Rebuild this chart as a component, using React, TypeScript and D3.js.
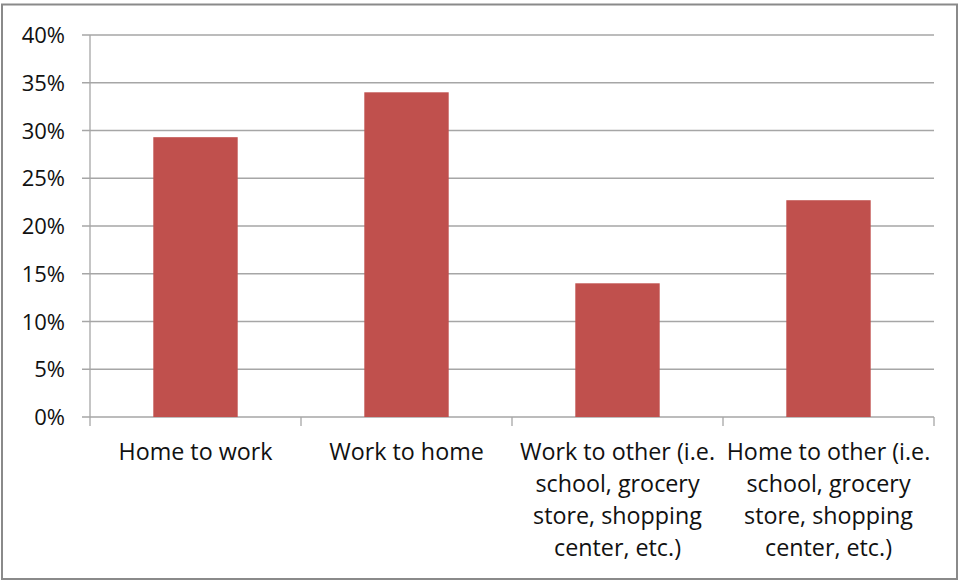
import React from "react";
import * as d3 from "d3";

const categories: string[] = [
  "Home to work",
  "Work to home",
  "Work to other (i.e. school, grocery store, shopping center, etc.)",
  "Home to other (i.e. school, grocery store, shopping center, etc.)",
];
const categoryLines: string[][] = [
  ["Home to work"],
  ["Work to home"],
  ["Work to other (i.e.", "school, grocery", "store, shopping", "center, etc.)"],
  ["Home to other (i.e.", "school, grocery", "store, shopping", "center, etc.)"],
];
const values: number[] = [0.293, 0.34, 0.14, 0.227];
const yTicks: number[] = [0, 0.05, 0.1, 0.15, 0.2, 0.25, 0.3, 0.35, 0.4];

const W = 963;
const H = 581;
const left = 90;
const right = 934;
const top = 35;
const bottom = 417;
const FONT = "'Open Sans', sans-serif";

export default function App() {
  const x = d3.scaleBand<string>().domain(categories).range([left, right]).paddingInner(0.6).paddingOuter(0.3);
  const xb = d3.scaleBand<string>().domain(categories).range([left, right]);
  const y = d3.scaleLinear().domain([0, 0.4]).range([bottom, top]);
  const fmt = d3.format(".0%");
  const boundaries = [left, ...categories.map((c) => (xb(c) as number) + xb.bandwidth())];

  return (
    <svg width={W} height={H} style={{ position: "absolute", left: 0, top: 0 }}>
      <rect x={0} y={0} width={W} height={H} fill="#fff" />
      <rect x={2} y={4.5} width={955} height={574.5} fill="none" stroke="#8a8a8a" strokeWidth={2} />
      {yTicks.map((t) => (
        <g key={t}>
          <line x1={82} x2={right} y1={y(t)} y2={y(t)} stroke="#a6a6a6" strokeWidth={1.3} />
          <text x={65} y={y(t) + 8} textAnchor="end" fontFamily={FONT} fontSize={22} fill="#111">
            {fmt(t)}
          </text>
        </g>
      ))}
      <line x1={left} x2={left} y1={top} y2={bottom} stroke="#a6a6a6" strokeWidth={1.3} />
      {boundaries.map((b, i) => (
        <line key={i} x1={b} x2={b} y1={bottom} y2={bottom + 9} stroke="#a6a6a6" strokeWidth={1.3} />
      ))}
      {categories.map((c, i) => (
        <rect
          key={c}
          x={x(c)}
          y={y(values[i])}
          width={x.bandwidth()}
          height={bottom - y(values[i])}
          fill="#C0504D"
        />
      ))}
      {categories.map((c, i) => (
        <text
          key={c}
          x={(xb(c) as number) + xb.bandwidth() / 2}
          textAnchor="middle"
          fontFamily={FONT}
          fontSize={23.3}
          fill="#111"
        >
          {categoryLines[i].map((l, j) => (
            <tspan key={j} x={(xb(c) as number) + xb.bandwidth() / 2} y={460 + j * 32}>
              {l}
            </tspan>
          ))}
        </text>
      ))}
    </svg>
  );
}
